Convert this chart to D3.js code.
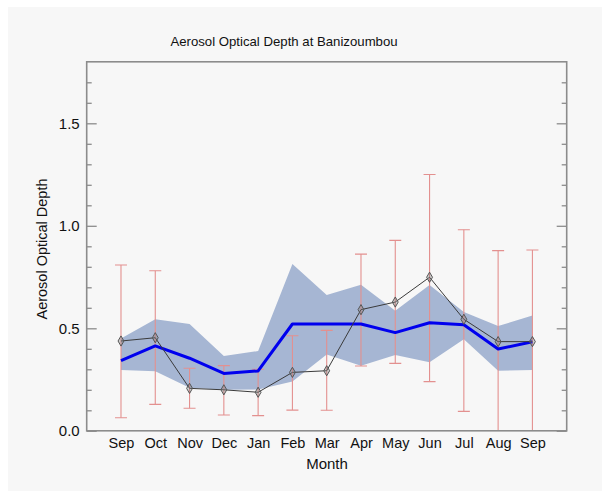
<!DOCTYPE html>
<html>
<head>
<meta charset="utf-8">
<script src="https://cdn.jsdelivr.net/npm/d3@7"></script>
<style>
  html, body { margin: 0; padding: 0; background: #ffffff; }
  svg { display: block; }
  text { font-family: "Liberation Sans", Arial, Helvetica, sans-serif; fill: #111; }
</style>
</head>
<body>
<script>
// Monthly aerosol optical depth, Banizoumbou (Sep through the following Sep)
const months = ["Sep", "Oct", "Nov", "Dec", "Jan", "Feb", "Mar", "Apr", "May", "Jun", "Jul", "Aug", "Sep"];

// Monthly mean for the year (black line with diamonds)
const yearMean = [0.438, 0.454, 0.207, 0.200, 0.188, 0.285, 0.293, 0.591, 0.628, 0.749, 0.544, 0.435, 0.435];

// Error bars around the yearly mean
const errUpper = [0.809, 0.781, 0.305, 0.318, 0.300, 0.464, 0.490, 0.862, 0.929, 1.250, 0.981, 0.879, 0.882];
const errLower = [0.064, 0.129, 0.110, 0.077, 0.074, 0.101, 0.100, 0.316, 0.329, 0.240, 0.095, -0.05, -0.05];

// Climatological mean (blue line) and its spread (shaded band)
const climMean  = [0.342, 0.414, 0.354, 0.280, 0.292, 0.521, 0.521, 0.521, 0.479, 0.527, 0.517, 0.399, 0.434];
const bandUpper = [0.450, 0.544, 0.521, 0.365, 0.389, 0.814, 0.662, 0.713, 0.586, 0.711, 0.580, 0.511, 0.562];
const bandLower = [0.296, 0.291, 0.210, 0.200, 0.202, 0.240, 0.372, 0.317, 0.370, 0.334, 0.446, 0.293, 0.296];

const yMajor = [0, 0.5, 1.0, 1.5];
const yMinor = d3.range(0, 18).map(i => i / 10).filter(v => !yMajor.some(m => Math.abs(m - v) < 1e-9));

const W = 602, H = 491;
const plot = { left: 86.7, right: 566.7, top: 61.8, bottom: 430.8 };

const svg = d3.select("body").append("svg").attr("width", W).attr("height", H);

// page background
svg.append("rect").attr("x", 8).attr("y", 7).attr("width", W - 8).attr("height", H - 7).attr("fill", "#f7f7f7");

const x = d3.scaleLinear().domain([-1, 13]).range([plot.left, plot.right]);
const y = d3.scaleLinear().domain([0, 1.8]).range([plot.bottom, plot.top]);

svg.append("defs").append("clipPath").attr("id", "plotclip")
  .append("rect").attr("x", plot.left).attr("y", plot.top)
  .attr("width", plot.right - plot.left).attr("height", plot.bottom - plot.top);

const g = svg.append("g").attr("clip-path", "url(#plotclip)");
const idx = months.map((_, i) => i);

// shaded spread band
g.append("path")
  .datum(idx)
  .attr("fill", "#a6b6d3")
  .attr("d", d3.area().x(i => x(i)).y0(i => y(bandLower[i])).y1(i => y(bandUpper[i])));

// error bars
const capHalf = 6;
const eb = g.append("g").attr("stroke", "#e3908f").attr("stroke-width", 1.1).attr("fill", "none");
idx.forEach(i => {
  eb.append("line").attr("x1", x(i)).attr("x2", x(i)).attr("y1", y(errLower[i])).attr("y2", y(errUpper[i]));
  eb.append("line").attr("x1", x(i) - capHalf).attr("x2", x(i) + capHalf).attr("y1", y(errUpper[i])).attr("y2", y(errUpper[i]));
  eb.append("line").attr("x1", x(i) - capHalf).attr("x2", x(i) + capHalf).attr("y1", y(errLower[i])).attr("y2", y(errLower[i]));
});

// climatological mean
g.append("path")
  .datum(idx)
  .attr("fill", "none")
  .attr("stroke", "#0000ee")
  .attr("stroke-width", 3)
  .attr("stroke-linejoin", "round")
  .attr("d", d3.line().x(i => x(i)).y(i => y(climMean[i])));

// yearly mean
g.append("path")
  .datum(idx)
  .attr("fill", "none")
  .attr("stroke", "#3a3a3a")
  .attr("stroke-width", 1)
  .attr("d", d3.line().x(i => x(i)).y(i => y(yearMean[i])));

g.selectAll("path.marker")
  .data(idx)
  .join("path")
  .attr("class", "marker")
  .attr("transform", i => `translate(${x(i)},${y(yearMean[i])})`)
  .attr("d", d3.symbol().type(d3.symbolDiamond).size(30))
  .attr("fill", "rgba(130,130,130,0.35)")
  .attr("stroke", "#555")
  .attr("stroke-width", 1);

// axes: ticks pointing into the plot on left and right
const axisColor = "#8c8c8c";
function styleAxis(sel) {
  sel.select(".domain").remove();
  sel.selectAll(".tick line").attr("stroke", axisColor).attr("stroke-width", 1.3);
}

svg.append("g").attr("transform", `translate(${plot.left},0)`)
  .call(d3.axisLeft(y).tickValues(yMinor).tickSize(-5).tickFormat(""))
  .call(styleAxis);
svg.append("g").attr("transform", `translate(${plot.left},0)`)
  .call(d3.axisLeft(y).tickValues(yMajor).tickSize(-10).tickPadding(7).tickFormat(d3.format(".1f")))
  .call(styleAxis)
  .call(s => s.selectAll(".tick text").attr("font-size", 15).attr("font-family", "Liberation Sans, Arial, sans-serif").attr("fill", "#111"));

svg.append("g").attr("transform", `translate(${plot.right},0)`)
  .call(d3.axisRight(y).tickValues(yMinor).tickSize(-5).tickFormat(""))
  .call(styleAxis);
svg.append("g").attr("transform", `translate(${plot.right},0)`)
  .call(d3.axisRight(y).tickValues(yMajor).tickSize(-10).tickFormat(""))
  .call(styleAxis);

svg.append("g").attr("transform", `translate(0,${plot.bottom})`)
  .call(d3.axisBottom(x).tickValues(idx).tickSize(0).tickPadding(7).tickFormat(i => months[i]))
  .call(s => s.select(".domain").remove())
  .call(s => s.selectAll(".tick text").attr("font-size", 14.5).attr("font-family", "Liberation Sans, Arial, sans-serif").attr("fill", "#111"));

// frame
svg.append("rect")
  .attr("x", plot.left).attr("y", plot.top)
  .attr("width", plot.right - plot.left).attr("height", plot.bottom - plot.top)
  .attr("fill", "none").attr("stroke", axisColor).attr("stroke-width", 1.6);

// titles
svg.append("text").attr("x", 284).attr("y", 46).attr("text-anchor", "middle")
  .attr("font-size", 13.2).text("Aerosol Optical Depth at Banizoumbou");
svg.append("text").attr("x", 327).attr("y", 469).attr("text-anchor", "middle")
  .attr("font-size", 15).text("Month");
svg.append("text").attr("transform", "translate(47,249) rotate(-90)").attr("text-anchor", "middle")
  .attr("font-size", 14.5).text("Aerosol Optical Depth");
</script>
</body>
</html>
